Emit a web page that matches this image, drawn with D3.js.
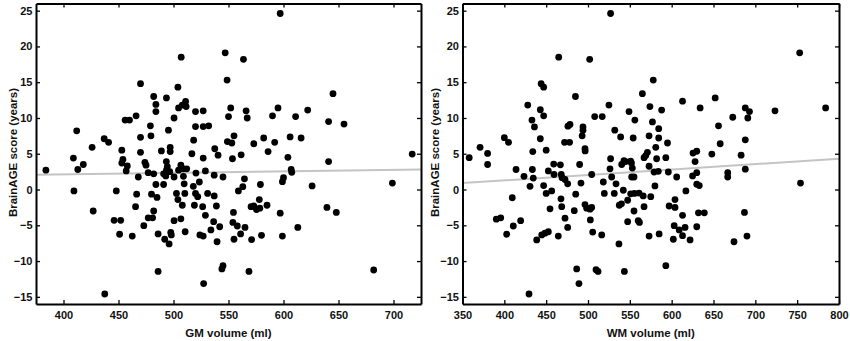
<!DOCTYPE html>
<html>
<head>
<meta charset="utf-8">
<script src="https://cdn.jsdelivr.net/npm/d3@7"></script>
<style>
  body { margin: 0; background: #fff; }
  text { font-family: "Liberation Sans", Arial, sans-serif; font-weight: bold; }
</style>
</head>
<body>
<div id="chart"></div>
<script>
// GM volume (ml) vs BrainAGE score (years)
const gmPoints = [
  [384,2.7],[409,4.4],[412,8.2],[413,2.8],[418,3.5],[426,5.9],[437,7.1],[441,6.6],[453,5.5],[454,4.2],
  [453,3.7],[458,3.3],[457,2.6],[456,9.7],[460,9.7],[466,10.3],[470,14.8],[470,7.3],[470,5.2],[474,3.8],
  [475,3.4],[479,8.9],[479.5,7.5],[482,13.0],[484,11.9],[484,10.9],[489,5.4],[493.6,12.8],[493.5,3.9],[495.4,8.3],
  [497,5.9],[497,5.3],[500.5,10.0],[504,14.3],[504.6,11.4],[507,18.5],[508,11.8],[511,12.3],[511.5,11.6],[516.7,5.0],
  [518.3,6.9],[520,10.9],[520,8.8],[527,11.0],[527,8.8],[532,8.9],[527,4.4],[537.5,5.7],[540.5,4.8],[547,19.1],
  [548.7,15.3],[552,11.4],[550,10.2],[549,6.7],[553,6.5],[555,7.5],[553.6,4.3],[561.5,4.85],[563.6,18.2],[566,11.0],
  [567,10.0],[573,6.4],[582,7.2],[586,5.3],[590,10.3],[592,6.6],[595,11.4],[597,24.6],[604,4.5],[606,7.35],
  [607,2.8],[607.5,2.4],[611,10.2],[616,7.2],[622,11.1],[641,9.5],[641,3.9],[645,13.4],[655,9.15],[717,4.95],
  [600,1.65],[599,1.1],[537,2.0],[545,1.75],[564.5,1.5],[563,0.4],[559,-0.2],[579,0.7],[626,0.5],[699,0.9],
  [537,-0.9],[578,-1.4],[585,-2.2],[539,-2.3],[570.5,-2.4],[573,-2.3],[575.5,-2.8],[578.5,-2.6],[554.5,-3.2],[597,-3.3],
  [639.5,-2.5],[648,-3.2],[536.5,-4.5],[542,-5.2],[534,-5.65],[554,-4.6],[558,-5.1],[565,-5.3],[539.6,-7.3],[561,-6.2],
  [555,-6.95],[571,-7.0],[580,-6.4],[599,-6.5],[613,-5.3],[545,-10.65],[544,-11.1],[568.6,-11.45],[682,-11.25],
  [409.5,-0.2],[427,-3.0],[437.5,-14.6],[448,-0.2],[446,-4.3],[452,-4.3],[451,-6.25],[462.5,-6.5],[465.5,-2.4],[466.5,-0.65],
  [468,1.75],[473,-5.05],[477,2.35],[477,-3.95],[481,-3.95],[482,2.2],[482,-3.0],[480,-0.65],[484,0.7],[485,-1.1],
  [486,-6.2],[486,-11.45],[491,0.7],[491,2.2],[493,1.9],[493.6,2.7],[494.4,3.2],[496.6,2.5],[492,-6.95],[496,-7.6],
  [497.5,-6.0],[498,-6.35],[500.5,-4.35],[500.5,1.75],[502.7,-0.55],[504,-1.4],[504.6,2.7],[506.7,3.4],[509,2.9],[512,2.9],
  [509,1.85],[509.7,0.8],[510.3,-0.55],[506.7,-4.1],[508,-2.2],[510.6,-5.9],[518,0.45],[520,-0.55],[522,-1.0],[519,-2.2],
  [520.4,2.3],[523.5,1.05],[529,2.6],[526.5,-2.4],[529,-3.6],[524,-6.35],[527,-6.5],[527.4,-13.15],[531,-0.55]
];

// WM volume (ml) vs BrainAGE score (years)
const wmPoints = [
  [358,4.45],[371,5.9],[380,5.05],[380,3.5],[400,7.25],[405,6.6],[414,2.8],[428,11.8],[433,9.7],[436,8.75],
  [443,11.15],[444,14.8],[447,14.3],[447,10.3],[443,7.1],[434,5.3],[450,5.5],[433.5,2.8],[452.6,2.6],[459,3.55],
  [465,18.5],[467,3.45],[472,6.6],[478,6.6],[476,8.85],[478.5,9.1],[485,13.0],[490,3.5],[494,8.75],[494,8.3],
  [493,7.5],[496.4,5.7],[496.6,5.4],[502,18.2],[508,10.2],[517,10.2],[525,11.8],[527,24.6],[527,4.3],[532,8.3],
  [539,7.35],[549,10.9],[556,9.7],[554,7.2],[543,4.05],[545,3.9],[551,3.95],
  [753,19.1],[578,15.3],[565,13.4],[613,12.35],[652,12.8],[574,11.6],[588,11.1],[634,11.4],[688,11.4],[693,10.9],
  [723.5,11.0],[784,11.4],[577,9.45],[584.5,8.5],[673,10.1],[691,10.0],[656,8.9],[573,7.5],[584.5,7.2],[595,6.5],
  [581,5.9],[571,5.2],[569,4.75],[567,4.45],[582,4.3],[593,4.45],[625.5,5.1],[630,5.35],[658,6.4],[648,4.95],
  [688,6.95],[683,4.8],[628,3.9],[573,3.25],[688,2.85],[552,3.7],[553,3.0],[579,2.45],[584,2.55],[596,2.45],
  [555,1.75],[580,0.5],[606,1.75],[630,2.35],[625,1.9],[630,0.75],[633,0.55],[667,2.35],[667,1.75],[754,0.9],
  [551,-0.6],[555.5,-0.55],[561,-0.5],[566,-0.9],[575,-1.0],[617,-0.2],[555,-3.0],[567,-2.4],[597,-2.3],[604,-2.5],
  [604,-1.4],[613,-3.6],[632,-3.25],[639,-3.25],[687,-3.2],[560,-4.35],[561.5,-4.6],[603,-5.05],[609,-5.65],[616,-5.3],
  [630,-5.2],[613,-6.45],[602,-6.95],[622,-7.05],[573,-6.5],[585,-6.2],[674.5,-7.3],[690,-6.5],[593,-10.65],
  [423.5,1.85],[434.6,1.6],[430.7,0.45],[447,0.55],[450,-0.55],[456.6,-0.2],[459.4,2.1],[468,2.1],[469,1.65],[472.5,1.4],
  [475.7,0.8],[409.5,-1.15],[390.4,-4.15],[395.7,-3.95],[410.7,-5.1],[419.5,-4.35],[402.8,-6.25],[438.7,-7.05],[444.7,-6.35],[448.6,-6.1],
  [452.6,-5.9],[454.6,-2.7],[467.7,-1.3],[468.6,-2.4],[464.5,-6.5],[472.5,-4.0],[475.7,-5.3],[483.6,-2.95],[485.3,-0.65],[491.6,0.9],
  [496.4,-2.1],[498.4,-2.6],[502.4,-2.75],[504.4,-2.5],[504.4,2.1],[502.8,-4.25],[505.6,-5.95],[486.5,-11.1],[489.2,-13.15],[429.5,-14.6],
  [509.6,-11.2],[512,-11.45],[516.4,-6.35],[518.3,1.05],[519.5,-0.55],[526.3,2.9],[528.3,1.75],[531.4,-0.55],[533.5,0.8],[537,-7.6],
  [540.3,3.5],[537.4,-2.2],[540,-2.0],[542.2,-0.1],[547.4,-1.5],[547.4,-4.5],[543.5,-11.45],[552.2,1.75]
];

// fitted regression lines (endpoints at the x-axis limits)
const gmFit = [[375, 2.05], [725, 2.8]];
const wmFit = [[350, 0.9], [800, 4.3]];

const gmTicks = [400, 450, 500, 550, 600, 650, 700];
const wmTicks = [350, 400, 450, 500, 550, 600, 650, 700, 750, 800];
const yTicks = [-15, -10, -5, 0, 5, 10, 15, 20, 25];

const w = 850;
const h = 341;
const svg = d3.select('#chart').append("svg")
              .attr("width", w)
              .attr("height", h);

const drawPanel = (left, right, xDomain, xTicks, points, fit, xLabel, yLabelGap) => {
    const top = 3.5, bottom = 304;
    const x = d3.scaleLinear().domain(xDomain).range([left, right]);
    const y = d3.scaleLinear().domain([-16, 26]).range([bottom, top]);

    const g = svg.append("g");

    // regression line under the dots
    g.append("path")
     .datum(fit)
     .attr("d", d3.line().x(d => x(d[0])).y(d => y(d[1])))
     .attr("stroke", "#c4c4c4")
     .attr("stroke-width", 2)
     .attr("fill", "none");

    g.selectAll("circle")
     .data(points)
     .enter()
     .append("circle")
     .attr("cx", d => x(d[0]))
     .attr("cy", d => y(d[1]))
     .attr("r", 3.4)
     .style("fill", "#000");

    // box axes, ticks pointing inward on all four sides
    const ax = (axis, tx, ty, labels) => {
        const a = g.append("g")
                   .attr("transform", `translate(${tx},${ty})`)
                   .call(axis);
        a.select(".domain").attr("stroke", "#000").attr("stroke-width", 2);
        a.selectAll(".tick line").attr("stroke", "#000").attr("stroke-width", 1.3);
        a.selectAll("text").style("font-size", "11px").attr("fill", "#111");
        if (!labels) a.selectAll("text").remove();
        return a;
    };
    ax(d3.axisBottom(x).tickValues(xTicks).tickSizeInner(-4).tickSizeOuter(0).tickPadding(7.5), 0, bottom, true);
    ax(d3.axisTop(x).tickValues(xTicks).tickSizeInner(-4).tickSizeOuter(0), 0, top, false);
    ax(d3.axisLeft(y).tickValues(yTicks).tickSizeInner(-4).tickSizeOuter(0).tickPadding(3.5), left, 0, true);
    ax(d3.axisRight(y).tickValues(yTicks).tickSizeInner(-4).tickSizeOuter(0), right, 0, false);

    g.append("text")
     .attr("x", (left + right) / 2)
     .attr("y", 337)
     .attr("text-anchor", "middle")
     .style("font-size", "11.5px")
     .attr("fill", "#111")
     .text(xLabel);

    g.append("text")
     .attr("transform", `translate(${left - yLabelGap},152.5) rotate(-90)`)
     .attr("text-anchor", "middle")
     .style("font-size", "11.5px")
     .attr("fill", "#111")
     .text("BrainAGE score (years)");
};

drawPanel(36, 421, [375, 725], gmTicks, gmPoints, gmFit, "GM volume (ml)", 19);
drawPanel(462.5, 839, [350, 800], wmTicks, wmPoints, wmFit, "WM volume (ml)", 23.5);
</script>
</body>
</html>
